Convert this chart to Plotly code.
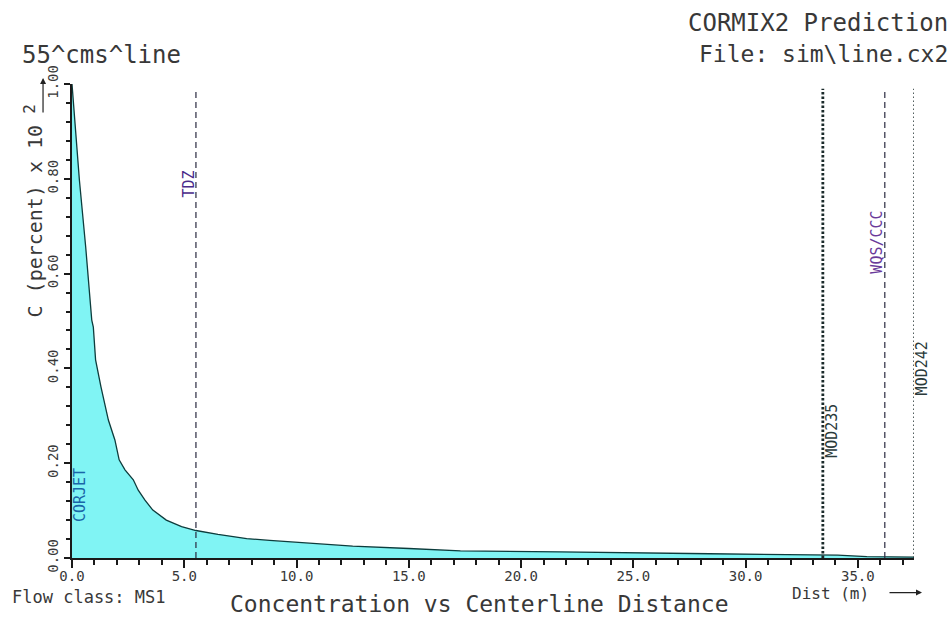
import plotly.graph_objects as go

# Centerline concentration (C, percent x 10^2) vs distance (m)
dist_m = [0, 0.03, 0.1, 0.33, 0.61, 0.88, 0.95, 1.05, 1.29, 1.62, 1.91, 2.1, 2.36, 2.73,
          2.95, 3.25, 3.6, 4.2, 4.88, 5.52, 6.5, 7.78, 8.8, 9.93, 12.5, 15.0, 17.3,
          21.7, 27.1, 28.4, 34.1, 35.4, 37.5]
conc = [1.0, 0.98, 0.94, 0.797, 0.656, 0.502, 0.487, 0.418, 0.361, 0.291, 0.249, 0.207,
        0.186, 0.165, 0.143, 0.122, 0.101, 0.08, 0.066, 0.058, 0.05, 0.041, 0.037, 0.033,
        0.025, 0.02, 0.015, 0.013, 0.011, 0.009, 0.006, 0.003, 0.002]

# Regulatory / module boundary markers
marker_names = ["TDZ", "MOD235", "WQS/CCC", "MOD242"]
marker_x = [5.52, 33.44, 36.2, 37.5]
marker_label_y = [0.79, 0.268, 0.667, 0.40]
marker_dash = ["6px,4px", "2.5px,2px", "6px,4px", "1.5px,2.5px"]
marker_width = [1.2, 2.8, 1.2, 1.5]
marker_colors = ["#2a2a40", "#1a2a2a", "#2a2a40", "#1a2a2a"]
marker_label_colors = ["#4a2a8a", "#2a3a3a", "#6a3a9a", "#2a3a3a"]
marker_label_shift = [-7, 9, -8, 8]

x_ticks = [0, 5, 10, 15, 20, 25, 30, 35]
y_ticks = [0, 0.2, 0.4, 0.6, 0.8, 1.0]

MONO = "DejaVu Sans Mono"
TXT = "#383838"

fig = go.Figure()
fig.add_trace(go.Scatter(
    x=dist_m, y=conc, mode="lines", fill="tozeroy",
    fillcolor="#80f4f4", line=dict(color="#0d3c3c", width=1.3),
    showlegend=False, hoverinfo="skip"))

for name, xv, ly, dsh, w, c, lc, sh in zip(marker_names, marker_x, marker_label_y,
                                           marker_dash, marker_width, marker_colors,
                                           marker_label_colors, marker_label_shift):
    fig.add_shape(type="line", xref="x", yref="y", x0=xv, x1=xv, y0=0, y1=0.99,
                  line=dict(color=c, width=w, dash=dsh))
    fig.add_annotation(x=xv, y=ly, xref="x", yref="y", text=name, showarrow=False,
                       textangle=-90, xshift=sh, xanchor="center", yanchor="middle",
                       font=dict(family=MONO, size=15, color=lc))

fig.add_annotation(x=0.36, y=0.133, xref="x", yref="y", text="CORJET", showarrow=False,
                   textangle=-90, xanchor="center", yanchor="middle",
                   font=dict(family=MONO, size=15, color="#1a66a8"))

ann = [
    dict(text="55^cms^line", x=-0.0618, y=1.0612, xanchor="left", size=24),
    dict(text="CORMIX2 Prediction", x=1.0428, y=1.1287, xanchor="right", size=24),
    dict(text="File: sim\\line.cx2", x=1.0428, y=1.0633, xanchor="right", size=23),
    dict(text="Flow class: MS1", x=-0.0736, y=-0.082, xanchor="left", size=17),
    dict(text="Concentration vs Centerline Distance", x=0.484, y=-0.0970, xanchor="center", size=23),
    dict(text="Dist (m)", x=0.8527, y=-0.0750, xanchor="left", size=16),
]
for a in ann:
    fig.add_annotation(x=a["x"], y=a["y"], xref="paper", yref="paper", text=a["text"],
                       showarrow=False, xanchor=a["xanchor"], yanchor="middle",
                       font=dict(family=MONO, size=a["size"], color=TXT))

# y-axis title (rotated) with exponent and upward arrow
fig.add_annotation(x=-0.0439, y=0.71, xref="paper", yref="paper", text="C (percent) x 10",
                   showarrow=False, textangle=-90, xanchor="center", yanchor="middle",
                   font=dict(family=MONO, size=20, color=TXT))
fig.add_annotation(x=-0.0505, y=0.949, xref="paper", yref="paper", text="2",
                   showarrow=False, textangle=-90, xanchor="center", yanchor="middle",
                   font=dict(family=MONO, size=16, color=TXT))
fig.add_annotation(x=-0.0344, y=1.0127, xref="paper", yref="paper", text="",
                   showarrow=True, ax=0, ay=36, arrowhead=2, arrowsize=1, arrowwidth=1.2,
                   arrowcolor="#222")
fig.add_annotation(x=1.0095, y=-0.0730, xref="paper", yref="paper", text="",
                   showarrow=True, ax=-34, ay=0, arrowhead=2, arrowsize=1, arrowwidth=1.2,
                   arrowcolor="#222")

fig.update_xaxes(range=[0, 37.5], tickvals=x_ticks, ticktext=[f"{v:.1f}" for v in x_ticks],
                 showgrid=False, zeroline=False, showline=True, linecolor="#1a1a1a",
                 linewidth=2, ticks="outside", ticklen=8, tickwidth=2, tickcolor="#1a1a1a",
                 ticklabelstandoff=-4,
                 minor=dict(dtick=1, ticks="outside", ticklen=5, tickwidth=1.5, tickcolor="#1a1a1a"),
                 tickfont=dict(family=MONO, size=14, color=TXT))
fig.update_yaxes(range=[0, 1.0], tickvals=y_ticks, ticktext=[f"{v:.2f}" for v in y_ticks],
                 tickangle=-90, showgrid=False, zeroline=False, showline=True,
                 linecolor="#1a1a1a", linewidth=2, ticks="outside", ticklen=6, tickwidth=2,
                 tickcolor="#1a1a1a",
                 minor=dict(dtick=0.04, ticks="outside", ticklen=4, tickwidth=1.5, tickcolor="#1a1a1a"),
                 tickfont=dict(family=MONO, size=14, color=TXT))

fig.update_layout(width=952, height=619, margin=dict(l=72, r=38, t=84, b=61),
                  paper_bgcolor="white", plot_bgcolor="white", showlegend=False)

fig.write_html("out.html", config={"displayModeBar": False},
               post_script="document.body.style.margin='0';document.body.style.padding='0';"
                           "document.body.style.overflow='hidden';")
